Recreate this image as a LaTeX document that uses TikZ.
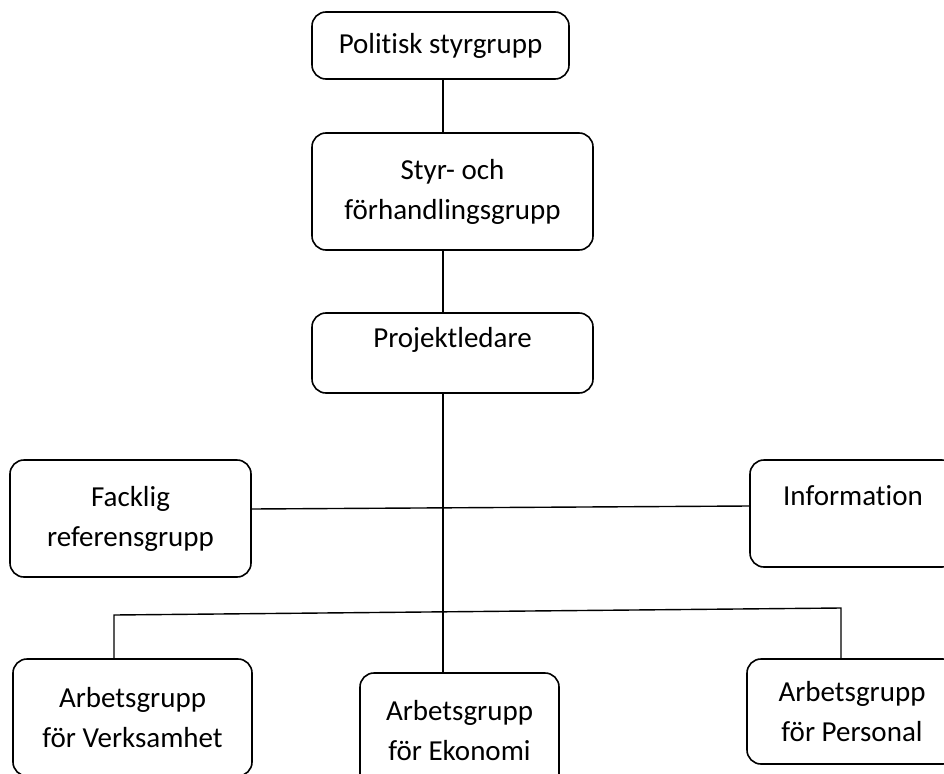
\documentclass[tikz,border=0pt]{standalone}
\usepackage{fontspec}
\setmainfont{Carlito}[Ligatures=NoCommon]
\begin{document}
\begin{tikzpicture}[x=1pt,y=-1pt,
    grp/.style={draw=black, line width=1.6pt, rounded corners=14pt, align=center,
      inner sep=0pt, font=\fontsize{29}{40}\selectfont},
    link/.style={draw=black, line width=1.4pt}]
  \useasboundingbox (0,0) rectangle (944,773);
  \clip (0,0) rectangle (944,773);
  % boxes
  \node[grp, minimum width=257pt, minimum height=67pt] (pol) at (440.5,45.5) {Politisk styrgrupp};
  \node[grp, minimum width=281pt, minimum height=117pt] (styr) at (452.5,191.5) {Styr- och\\förhandlingsgrupp};
  \node[grp, minimum width=281pt, minimum height=80pt, text depth=32pt] (proj) at (452.5,353) {Projektledare};
  \node[grp, minimum width=241pt, minimum height=117pt] (fack) at (130.5,518.5) {Facklig\\referensgrupp};
  \node[grp, minimum width=206pt, minimum height=107pt, text depth=36pt] (info) at (853,513.5) {Information};
  \node[grp, minimum width=239pt, minimum height=117pt] (verk) at (132.5,717.5) {Arbetsgrupp\\för Verksamhet};
  \node[grp, minimum width=199pt, minimum height=116pt] (ekon) at (459.5,731) {Arbetsgrupp\\för Ekonomi};
  \node[grp, minimum width=210pt, minimum height=105pt] (pers) at (852,711.5) {Arbetsgrupp\\för Personal};
  % connectors
  \coordinate (axis) at (443,0);
  \coordinate (busL) at (114,615);
  \coordinate (busR) at (841,608);
  \draw[link] (axis |- pol.south) -- (axis |- styr.north);
  \draw[link] (axis |- styr.south) -- (axis |- proj.north);
  \draw[link] (axis |- proj.south) -- (axis |- ekon.north);
  \draw[link] ([yshift=9.5pt]fack.east) -- ([yshift=7.5pt]info.west);
  \draw[link] (busL |- verk.north) -- (busL) -- (busR) -- (busR |- pers.north);
\end{tikzpicture}
\end{document}
